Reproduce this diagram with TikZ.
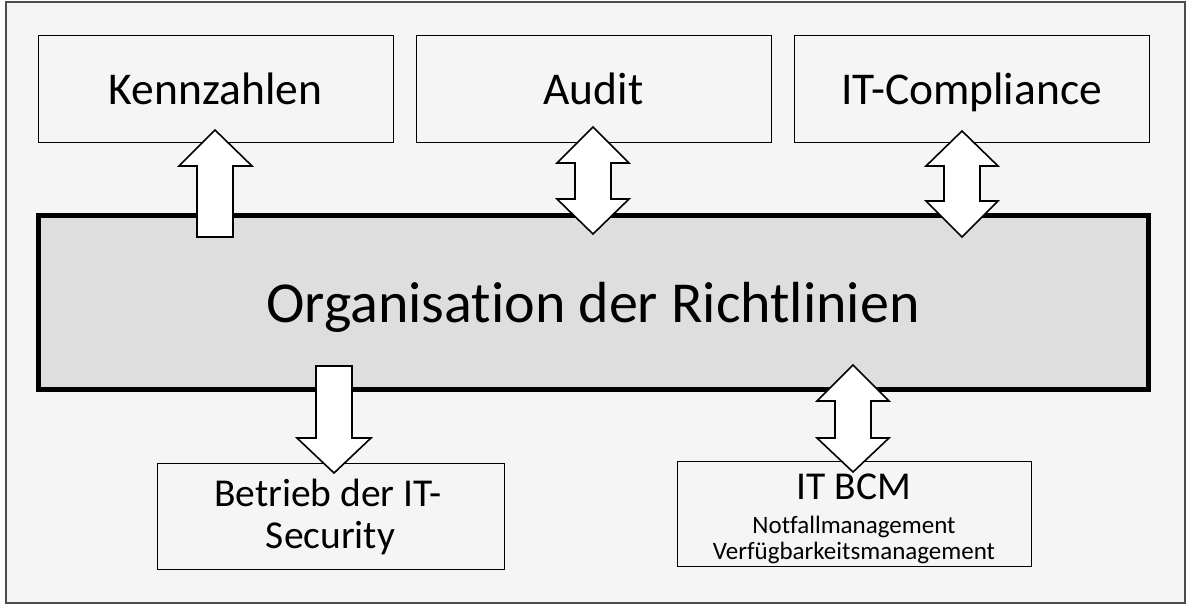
\documentclass[tikz,border=0pt]{standalone}
\usepackage{fontspec}
\setmainfont{Carlito}[Ligatures={NoCommon}]
\begin{document}
\begin{tikzpicture}[x=1pt,y=-1pt,
  frame/.style={draw=black!70,line width=1.5pt,fill=black!4},
  topbox/.style={draw=black,line width=0.9pt,fill=black!4},
  mainbox/.style={draw=black,line width=5pt,fill=black!13},
  blockarrow/.style={draw=black,line width=1.6pt,fill=white,line join=miter},
  bigtxt/.style={font=\fontsize{45.5}{54}\selectfont,anchor=base,inner sep=0pt},
  hugetxt/.style={font=\fontsize{58}{68}\selectfont,anchor=base,inner sep=0pt},
  midtxt/.style={font=\fontsize{39.5}{47}\selectfont,anchor=base,inner sep=0pt},
  smalltxt/.style={font=\fontsize{25}{30}\selectfont,anchor=base,inner sep=0pt}]
\useasboundingbox (0,0) rectangle (1193,614);
\fill[white] (0,0) rectangle (1193,614);
% outer frame
\draw[frame] (6,2) rectangle (1185,603);
% top boxes
\draw[topbox] (38,35) rectangle (393,142);
\draw[topbox] (416,35) rectangle (771,142);
\draw[topbox] (794,35) rectangle (1149,142);
\node[bigtxt] (kz) at (215.5,104) {Kennzahlen};
\node[bigtxt] (au) at (593.5,104) {Audit};
\node[bigtxt] (itc) at (971.5,104) {IT-Compliance};
% bottom boxes
\draw[topbox] (157,463) rectangle (504,569);
\draw[topbox] (677,461) rectangle (1031,566);
\node[midtxt] (bt1) at (328,506) {Betrieb der IT-};
\node[midtxt] (bt2) at (330.5,548) {Security};
\node[midtxt] (bcm) at (854,499) {IT BCM};
\node[smalltxt] (nf) at (854,533) {Notfallmanagement};
\node[smalltxt] (vf) at (854,559) {Verfügbarkeitsmanagement};
% main box
\draw[mainbox] (38.5,215.5) rectangle (1148,389.5);
\node[hugetxt] (org) at (593,322) {Organisation der Richtlinien};
% arrows
% Kennzahlen: up arrow
\draw[blockarrow] (197,237) -- (197,166) -- (179,166) -- (215,130) -- (252,166) -- (233,166) -- (233,237) -- cycle;
% Audit: double arrow
\draw[blockarrow] (593,127) -- (629,163) -- (611,163) -- (611,199) -- (629,199) -- (593,234) -- (557,199) -- (575,199) -- (575,163) -- (557,163) -- cycle;
% IT-Compliance: double arrow
\draw[blockarrow] (962,131) -- (998,166) -- (980,166) -- (980,201) -- (998,201) -- (962,237) -- (926,201) -- (944,201) -- (944,166) -- (926,166) -- cycle;
% Betrieb: down arrow
\draw[blockarrow] (316,366) -- (352,366) -- (352,438) -- (371,438) -- (334,473) -- (297,438) -- (316,438) -- cycle;
% IT BCM: double arrow
\draw[blockarrow] (853,365) -- (889,401) -- (871,401) -- (871,438) -- (889,438) -- (853,472) -- (817,438) -- (835,438) -- (835,401) -- (817,401) -- cycle;
\end{tikzpicture}
\end{document}
